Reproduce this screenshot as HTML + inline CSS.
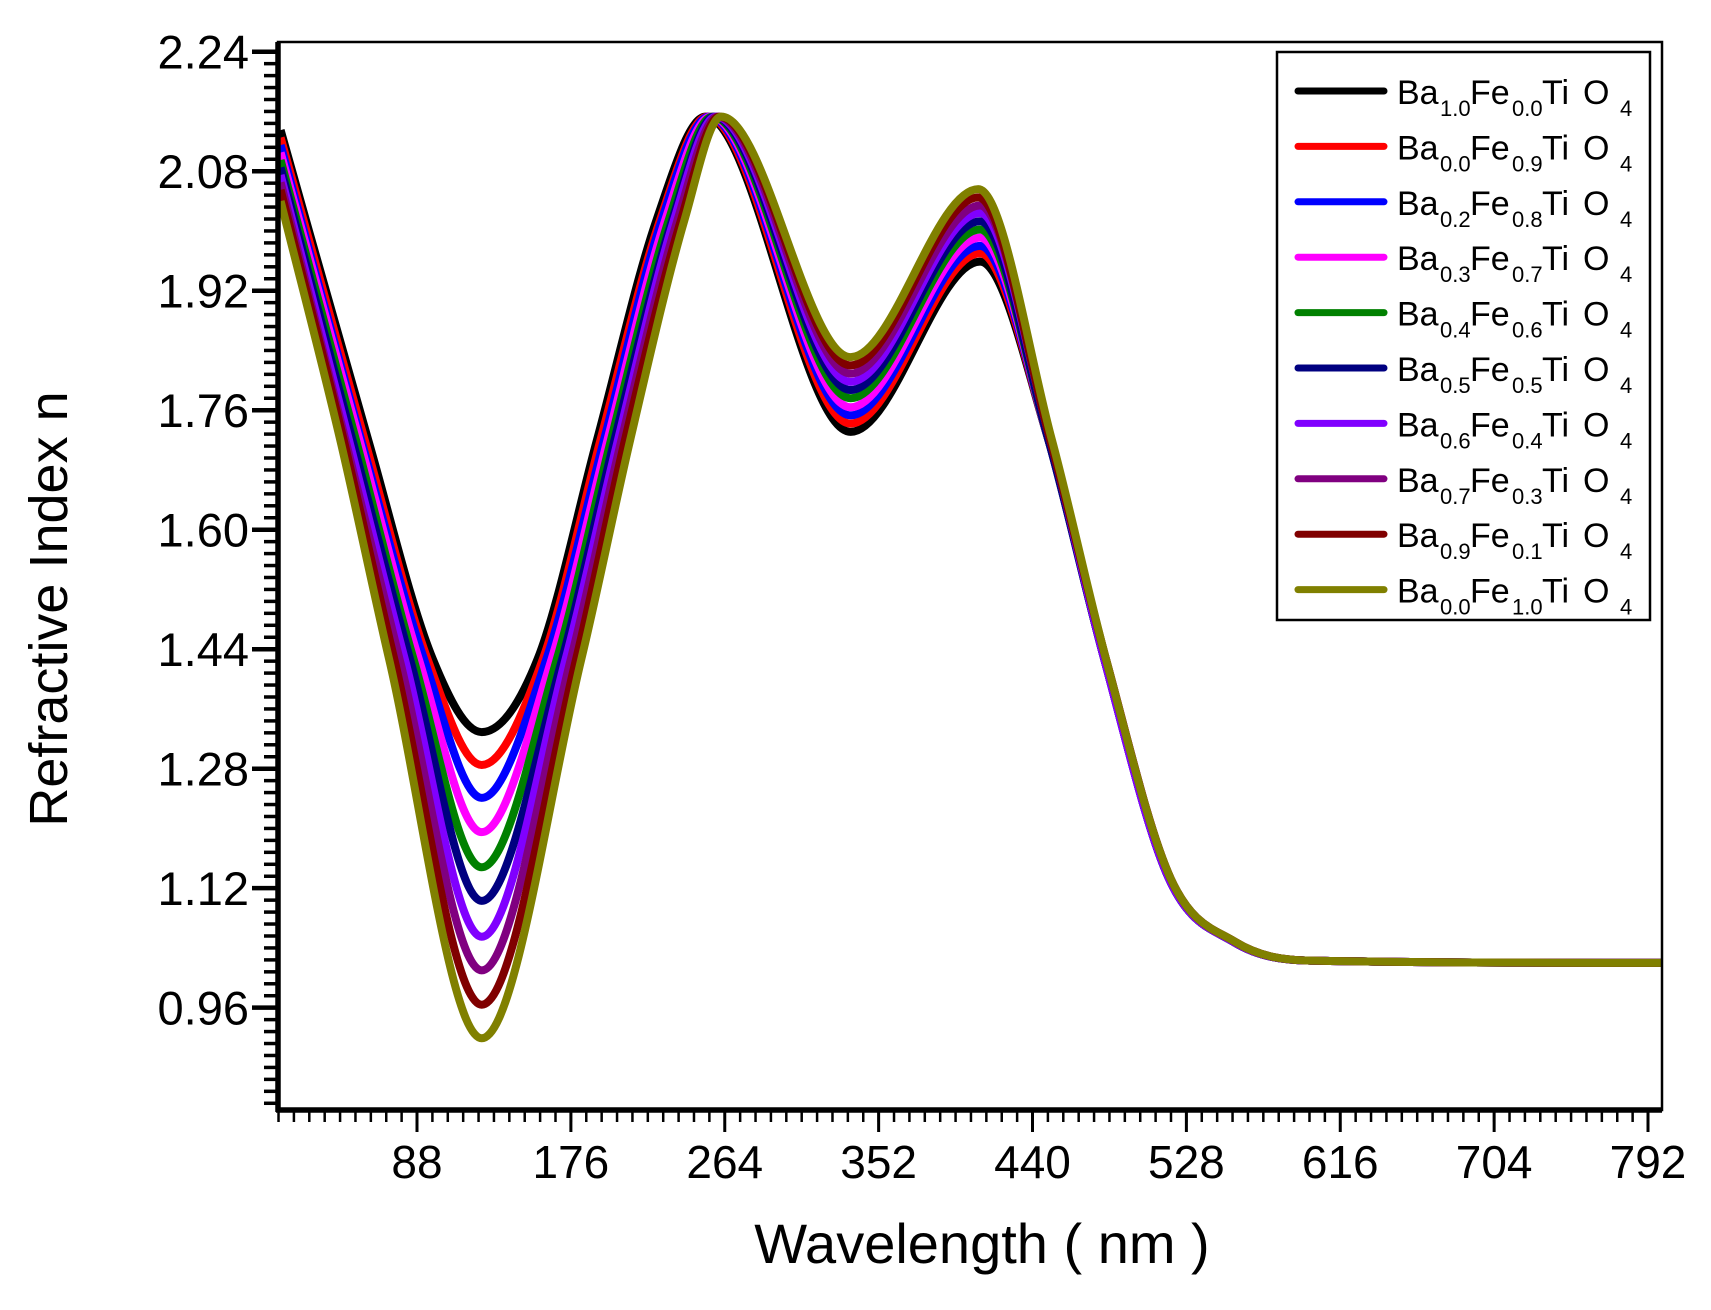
<!DOCTYPE html>
<html><head><meta charset="utf-8"><style>
html,body{margin:0;padding:0;background:#fff;}
svg{display:block;font-family:"Liberation Sans",Arial,sans-serif;}
</style></head><body>
<svg id="chart" width="1711" height="1310" viewBox="0 0 1711 1310" xmlns="http://www.w3.org/2000/svg">
<rect x="0" y="0" width="1711" height="1310" fill="#fff"/>
<g id="plot"></g>
<g id="axes"></g>
<g id="legend"></g>
<text x="982" y="1263" font-size="56" text-anchor="middle">Wavelength ( nm )</text>
<text transform="translate(67,609) rotate(-90)" font-size="54" text-anchor="middle">Refractive Index n</text>
</svg>
<script>
const seriesNames = ["Ba1.0Fe0.0TiO4","Ba0.0Fe0.9TiO4","Ba0.2Fe0.8TiO4","Ba0.3Fe0.7TiO4","Ba0.4Fe0.6TiO4","Ba0.5Fe0.5TiO4","Ba0.6Fe0.4TiO4","Ba0.7Fe0.3TiO4","Ba0.9Fe0.1TiO4","Ba0.0Fe1.0TiO4"];
const legendBa = ["1.0","0.0","0.2","0.3","0.4","0.5","0.6","0.7","0.9","0.0"];
const legendFe = ["0.0","0.9","0.8","0.7","0.6","0.5","0.4","0.3","0.1","1.0"];
const colors = ["#000000","#ff0000","#0000ff","#ff00ff","#008000","#000080","#8000ff","#800080","#800000","#808000"];
const xTicks = [88,176,264,352,440,528,616,704,792];
const yTicks = [0.96,1.12,1.28,1.44,1.60,1.76,1.92,2.08,2.24];
// per-series key wavelengths (nm)
const wl0 = [10,60,97,125,157,191,225,253,336,410,449,481,518,555,599,800];
const wl1 = [10,58,94,125,160,193,227,254,336,410,449,481,518,555,599,800];
const wl2 = [10,56,92,125,162,195,228,255,336,410,449,481,518,555,599,800];
const wl3 = [10,55,89,125,165,197,230,256,336,410,449,481,518,555,599,800];
const wl4 = [10,53,86,125,168,199,232,257,336,410,449,481,518,555,599,800];
const wl5 = [10,51,84,125,171,201,234,258,336,410,449,481,518,555,599,800];
const wl6 = [10,49,81,125,173,203,235,259,336,410,450,481,518,555,599,800];
const wl7 = [10,47,78,125,176,205,237,260,336,410,450,482,519,556,599,800];
const wl8 = [10,46,75,125,179,207,239,261,336,409,450,482,519,556,599,800];
const wl9 = [10,44,72,125,182,210,241,262,336,409,451,482,519,556,599,800];
// per-series refractive index values
const n0 = [2.135,1.721,1.427,1.329,1.427,1.721,2.015,2.153,1.731,1.959,1.721,1.427,1.133,1.048,1.023,1.020];
const n1 = [2.125,1.721,1.427,1.285,1.427,1.721,2.015,2.153,1.742,1.970,1.721,1.427,1.133,1.048,1.023,1.020];
const n2 = [2.115,1.721,1.427,1.241,1.427,1.721,2.015,2.153,1.753,1.980,1.721,1.427,1.133,1.048,1.023,1.020];
const n3 = [2.105,1.721,1.427,1.195,1.427,1.721,2.015,2.153,1.764,1.991,1.721,1.427,1.133,1.048,1.023,1.020];
const n4 = [2.095,1.721,1.427,1.148,1.427,1.721,2.015,2.153,1.776,2.002,1.721,1.427,1.133,1.048,1.023,1.020];
const n5 = [2.085,1.721,1.427,1.103,1.427,1.721,2.015,2.153,1.787,2.013,1.721,1.427,1.133,1.048,1.023,1.020];
const n6 = [2.075,1.721,1.427,1.055,1.427,1.721,2.015,2.153,1.798,2.024,1.721,1.427,1.133,1.048,1.023,1.020];
const n7 = [2.065,1.721,1.427,1.010,1.427,1.721,2.015,2.153,1.809,2.034,1.721,1.427,1.133,1.048,1.023,1.020];
const n8 = [2.055,1.721,1.427,0.964,1.427,1.721,2.015,2.153,1.820,2.045,1.721,1.427,1.133,1.048,1.023,1.020];
const n9 = [2.040,1.721,1.427,0.919,1.427,1.721,2.015,2.153,1.831,2.056,1.721,1.427,1.133,1.048,1.023,1.020];
const allWl = [wl0,wl1,wl2,wl3,wl4,wl5,wl6,wl7,wl8,wl9];
const allN = [n0,n1,n2,n3,n4,n5,n6,n7,n8,n9];

const NS = "http://www.w3.org/2000/svg";
const L = 278, R = 1662, T = 42, B = 1110;
const xMin = 8.5, xMax = 800, yMin = 0.823, yMax = 2.253;
function xs(v){ return L + (v - xMin) / (xMax - xMin) * (R - L); }
function ys(v){ return B - (v - yMin) / (yMax - yMin) * (B - T); }
function mk(tag, attrs, parent){ const e = document.createElementNS(NS, tag); for (const k in attrs) e.setAttribute(k, attrs[k]); parent.appendChild(e); return e; }

function monotonePath(px, py){
  const n = px.length, d = [], m = [];
  for (let i = 0; i < n - 1; i++) d.push((py[i+1]-py[i])/(px[i+1]-px[i]));
  m.push(d[0]);
  for (let i = 1; i < n - 1; i++) m.push(d[i-1]*d[i] <= 0 ? 0 : (d[i-1]+d[i])/2);
  m.push(d[n-2]);
  for (let i = 0; i < n - 1; i++){
    if (d[i] === 0){ m[i]=0; m[i+1]=0; continue; }
    const a = m[i]/d[i], b = m[i+1]/d[i], s = a*a+b*b;
    if (s > 9){ const t = 3/Math.sqrt(s); m[i]=t*a*d[i]; m[i+1]=t*b*d[i]; }
  }
  let p = "M" + px[0] + "," + py[0];
  for (let i = 0; i < n - 1; i++){
    const h = (px[i+1]-px[i])/3;
    p += " C" + (px[i]+h) + "," + (py[i]+m[i]*h) + " " + (px[i+1]-h) + "," + (py[i+1]-m[i+1]*h) + " " + px[i+1] + "," + py[i+1];
  }
  return p;
}

const plot = document.getElementById("plot");
mk("clipPath", {id:"clip"}, plot).appendChild(document.createElementNS(NS,"rect"));
const cr = plot.querySelector("clipPath rect");
cr.setAttribute("x", L); cr.setAttribute("y", T); cr.setAttribute("width", R-L); cr.setAttribute("height", B-T);
for (let s = 0; s < allWl.length; s++){
  const px = allWl[s].map(xs), py = allN[s].map(ys);
  const path = mk("path", {d: monotonePath(px, py), fill:"none", stroke: colors[s], "stroke-width": 8, "stroke-linejoin":"round", "clip-path":"url(#clip)"}, plot);
  
  
}

const axes = document.getElementById("axes");
const fr = mk("rect", {x:L, y:T, width:R-L, height:B-T, fill:"none", stroke:"#000", "stroke-width":2.5}, axes);


for (let v = yTicks[0]; v >= yMin; v -= 0.016){
  mk("line", {x1:264, x2:L, y1:ys(v), y2:ys(v), stroke:"#000", "stroke-width":3.5}, axes);
}
for (let v = yTicks[0] + 0.016; v <= yMax + 0.0001; v += 0.016){
  mk("line", {x1:264, x2:L, y1:ys(v), y2:ys(v), stroke:"#000", "stroke-width":3.5}, axes);
}
for (let v = xTicks[0]; v >= xMin; v -= 8.8){
  mk("line", {x1:xs(v), x2:xs(v), y1:B, y2:1122, stroke:"#000", "stroke-width":2.5}, axes);
}
for (let v = xTicks[0] + 8.8; v <= xMax; v += 8.8){
  mk("line", {x1:xs(v), x2:xs(v), y1:B, y2:1122, stroke:"#000", "stroke-width":2.5}, axes);
}
yTicks.forEach(v => {
  const t = mk("line", {x1:252, x2:L, y1:ys(v), y2:ys(v), stroke:"#000", "stroke-width":4.5}, axes);
  
  
  const lb = mk("text", {x:249, y:ys(v)+17, "font-size":47, "text-anchor":"end"}, axes);
  lb.textContent = v.toFixed(2);
  
  
});
xTicks.forEach(v => {
  const t = mk("line", {x1:xs(v), x2:xs(v), y1:B, y2:1132, stroke:"#000", "stroke-width":3}, axes);
  
  
  const lb = mk("text", {x:xs(v), y:1178, "font-size":46, "text-anchor":"middle"}, axes);
  lb.textContent = String(v);
  
  
});
const ya = mk("line", {x1:L, x2:L, y1:T, y2:B+2, stroke:"#000", "stroke-width":5.5}, axes);


const xa = mk("line", {x1:L-2, x2:R, y1:B, y2:B, stroke:"#000", "stroke-width":5.5}, axes);



const lg = document.getElementById("legend");
const box = mk("rect", {x:1277, y:52, width:373, height:568, fill:"#fff", stroke:"#000", "stroke-width":2.5}, lg);


for (let i = 0; i < seriesNames.length; i++){
  const y = 91 + i * 55.4;
  const g = mk("g", {}, lg);
  
  
  mk("line", {x1:1298, x2:1384, y1:y, y2:y, stroke:colors[i], "stroke-width":7, "stroke-linecap":"round"}, g);
  const t = mk("text", {"font-size":34}, g);
  const parts = [["Ba",1397,y+13,34],[legendBa[i],1440,y+25,22],["Fe",1470,y+13,34],[legendFe[i],1512,y+25,22],["Ti",1542,y+13,34],["O",1583,y+13,34],["4",1620,y+25,22]];
  parts.forEach(p => { const ts = mk("tspan", {x:p[1], y:p[2], "font-size":p[3]}, t); ts.textContent = p[0]; });
}
</script>
</body></html>
